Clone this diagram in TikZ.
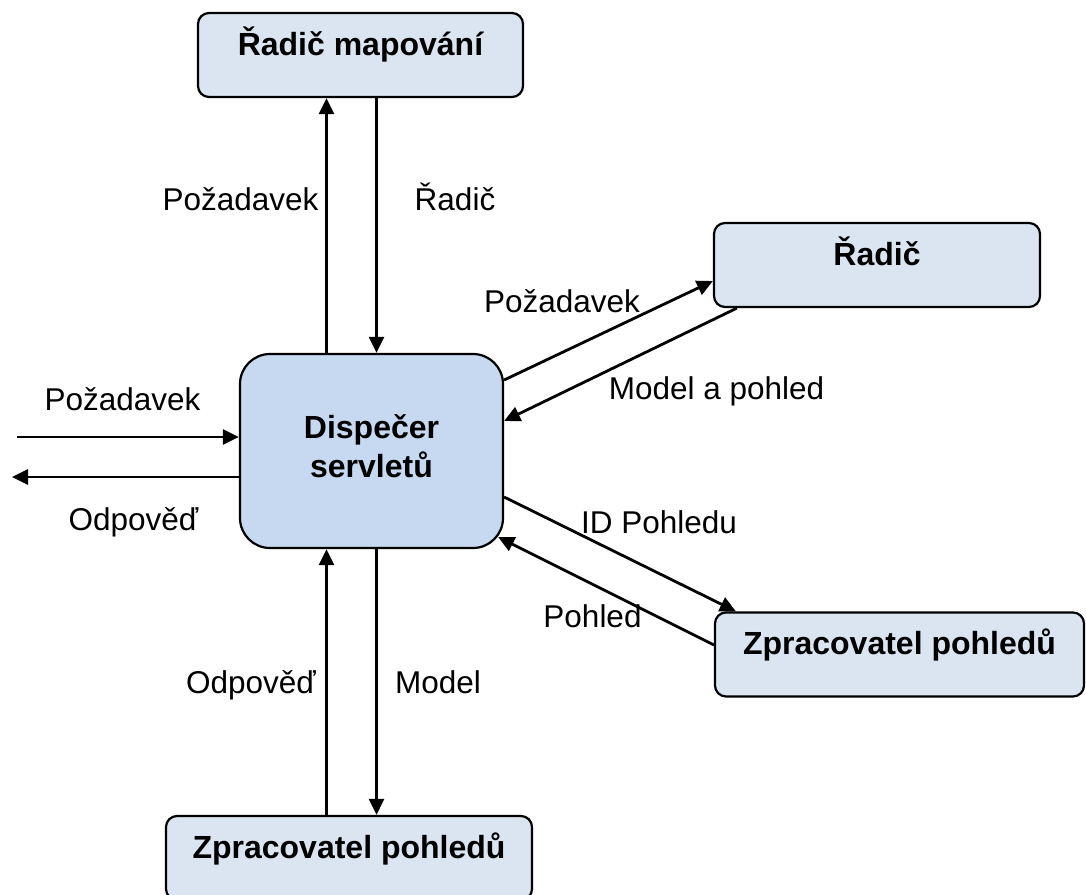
\documentclass[tikz,border=0pt]{standalone}
\usepackage{fontspec}
\setmainfont{Liberation Sans}
\usetikzlibrary{arrows.meta,calc}
\definecolor{boxfill}{HTML}{DBE5F1}
\definecolor{hubfill}{HTML}{C6D9F1}
\begin{document}
\begin{tikzpicture}[x=1pt,y=-1pt,
  box/.style={draw=black,line width=2.2pt,fill=boxfill,rounded corners=11pt,
    inner sep=0pt,text height=42pt,text depth=42pt,
    font=\fontsize{32}{38}\selectfont\bfseries},
  hub/.style={draw=black,line width=2.2pt,fill=hubfill,rounded corners=30pt,
    inner sep=0pt,minimum width=263pt,text height=84pt,text depth=110pt,
    font=\fontsize{32}{39}\selectfont\bfseries},
  lbl/.style={anchor=base,inner sep=0pt,font=\fontsize{31.5}{38}\selectfont},
  arr/.style={line width=2.8pt,-{Triangle[length=16pt,width=15pt]}}
]
\clip (0,0) rectangle (1086,894);
\fill[white] (0,0) rectangle (1086,894);

% components
\node[box,minimum width=325pt] (map) at (360.5,55) {Řadič mapování};
\node[box,minimum width=326pt] (ctl) at (877,265) {Řadič};
\node[hub] (disp) at (371.5,451)
  {\begin{tabular}[t]{@{}c@{}}Dispečer\\servletů\end{tabular}};
\node[box,minimum width=369pt] (vrR) at (899.5,654.5) {Zpracovatel pohledů};
\node[box,minimum width=366pt] (vrB) at (349,858) {Zpracovatel pohledů};

% free ends on the left
\coordinate (inL) at (17,437);
\coordinate (outL) at (12,477);

% dispatcher <-> handler mapping
\draw[arr] ([xshift=-45pt]disp.north) -- ([xshift=-45pt]disp.north |- map.south);
\draw[arr] ([xshift=5pt]disp.north |- map.south) -- ([xshift=5pt]disp.north);

% dispatcher <-> controller
\draw[arr] ([yshift=71pt]disp.east) -- ([yshift=-16pt]ctl.west);
\draw[arr] ([xshift=24pt]ctl.south west) -- ([yshift=30pt]disp.east);

% request in, response out
\draw[arr] (inL) -- (inL -| disp.west);
\draw[arr] (outL -| disp.west) -- (outL);

% dispatcher <-> view resolver (right)
\draw[arr] ([yshift=-46pt]disp.east) -- ([xshift=22pt]vrR.north west);
\draw[arr] ([yshift=9.5pt]vrR.west) -- ([shift={(-6pt,-86pt)}]disp.east);

% dispatcher <-> view resolver (bottom)
\draw[arr] ([xshift=-45pt]disp.south |- vrB.north) -- ([xshift=-45pt]disp.south);
\draw[arr] ([xshift=5pt]disp.south) -- ([xshift=5pt]disp.south |- vrB.north);

% connector labels
\node[lbl] (l1) at (240.5,210) {Požadavek};
\node[lbl] (l2) at (455,210) {Řadič};
\node[lbl] (l3) at (562,312) {Požadavek};
\node[lbl] (l4) at (716.5,399) {Model a pohled};
\node[lbl] (l5) at (122.5,410) {Požadavek};
\node[lbl] (l6) at (133.5,530) {Odpověď};
\node[lbl] (l7) at (659,533) {ID Pohledu};
\node[lbl] (l8) at (592.5,627) {Pohled};
\node[lbl] (l9) at (251,693) {Odpověď};
\node[lbl] (l10) at (438,693) {Model};
\end{tikzpicture}
\end{document}
